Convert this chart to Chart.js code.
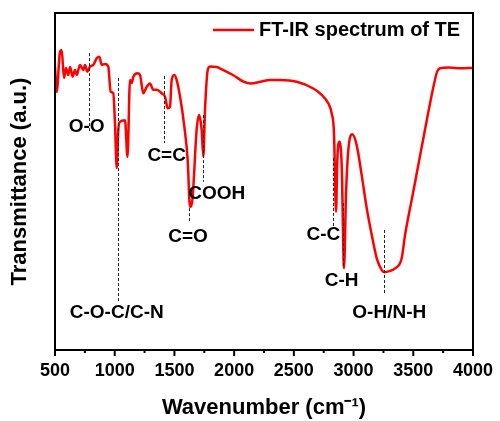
<!DOCTYPE html>
<html lang="en">
<head>
<meta charset="UTF-8">
<title>FT-IR spectrum of TE</title>
<script src="https://cdn.jsdelivr.net/npm/chart.js"></script>
<style>
  html, body { margin: 0; padding: 0; background: #ffffff; }
  #wrap { width: 500px; height: 421px; }
</style>
</head>
<body>
<div id="wrap"><canvas id="irChart" width="500" height="421"></canvas></div>
<script>
// wavenumber (cm-1) and transmittance (a.u., 0-100)
const wavenumbers = [
  500, 514, 542, 556, 575, 592, 611, 626, 648, 667, 682, 709, 737, 751, 770, 793,
  821, 849, 871, 891, 919, 946, 966, 988, 1002, 1017, 1030, 1044, 1086, 1107,
  1128, 1142, 1156, 1191, 1212, 1239, 1268, 1295, 1323, 1352, 1393, 1421, 1444,
  1463, 1477, 1499, 1519, 1547, 1583, 1611, 1630, 1650, 1686, 1706, 1728, 1742,
  1756, 1779, 1800, 1854, 1880, 1990, 2080, 2140, 2220, 2300, 2390, 2524, 2663,
  2733, 2788, 2817, 2836, 2853, 2864, 2881, 2901, 2920, 2937, 2956, 2989, 3026,
  3068, 3110, 3152, 3194, 3236, 3257, 3300, 3347, 3403, 3431, 3498, 3613, 3683,
  3700, 3724, 3800, 3900, 4000
];
const transmittance = [
  84.0, 76.6, 88.5, 89.0, 80.7, 83.7, 81.6, 84.0, 81.1, 83.1, 81.6, 84.6, 83.1, 84.6, 82.6, 84.1,
  84.6, 86.6, 87.0, 84.6, 84.9, 84.1, 76.6, 76.2, 67.4, 54.0, 65.3, 67.7, 68.2, 57.3,
  80.1, 79.2, 81.1, 82.1, 81.6, 76.2, 78.1, 79.1, 77.2, 77.2, 76.2, 75.2, 71.7,
  72.2, 80.1, 81.6, 80.1, 75.2, 66.3, 56.4, 42.5, 44.5, 65.3, 69.7, 65.3, 57.4,
  71.2, 83.1, 84.1, 84.0, 83.6, 81.6, 79.6, 79.1, 79.6, 80.1, 80.1, 79.6, 77.6,
  75.7, 73.2, 70.2, 64.4, 41.0, 56.4, 61.8, 54.4, 24.3, 46.6, 59.3, 64.0, 60.8,
  51.9, 42.1, 34.2, 27.2, 23.7, 23.1, 23.4, 24.2, 27.2, 34.1, 46.6, 68.2, 80.4,
  82.6, 83.6, 83.8, 83.6, 83.7
];

// band assignments: label, wavenumber of dashed line, line top/bottom (a.u.), label centre
const bandLabels = ['O-O', 'C-O-C/C-N', 'C=C', 'C=O', 'COOH', 'C-C', 'C-H', 'O-H/N-H'];
const bandWave   = [785, 1030, 1415, 1625, 1742, 2826, 2912, 3255];
const bandTop    = [88.1, 80.7, 81.3, 42.1, 69.7, 57.0, 43.6, 35.6];
const bandBottom = [64.4, 14.2, 61.4, 37.7, 49.9, 36.5, 24.3, 16.3];
const labelWave  = [765, 1017, 1435, 1614, 1854, 2747, 2900, 3299];
const labelT     = [66.2, 11.0, 57.6, 33.5, 46.3, 34.1, 20.5, 11.0];

const xTicks = [500, 1000, 1500, 2000, 2500, 3000, 3500, 4000];

const boldFont = '"Liberation Sans", Arial, sans-serif';

// frame, outward ticks, legend and band annotations
const decorPlugin = {
  id: 'decor',
  afterDatasetsDraw(chart) {
    const ctx = chart.ctx;
    const area = chart.chartArea;
    const xs = chart.scales.x;
    const ys = chart.scales.y;

    ctx.save();
    // dashed band markers
    ctx.strokeStyle = '#222';
    ctx.lineWidth = 1;
    ctx.setLineDash([3, 2]);
    bandLabels.forEach((lab, i) => {
      const px = Math.round(xs.getPixelForValue(bandWave[i])) + 0.5;
      ctx.beginPath();
      ctx.moveTo(px, ys.getPixelForValue(bandTop[i]));
      ctx.lineTo(px, ys.getPixelForValue(bandBottom[i]));
      ctx.stroke();
    });
    ctx.setLineDash([]);
    ctx.fillStyle = '#000';
    ctx.font = 'bold 19px ' + boldFont;
    ctx.textAlign = 'center';
    ctx.textBaseline = 'middle';
    bandLabels.forEach((lab, i) => {
      ctx.fillText(lab, xs.getPixelForValue(labelWave[i]), ys.getPixelForValue(labelT[i]));
    });

    // frame
    ctx.strokeStyle = '#000';
    ctx.lineWidth = 2;
    ctx.strokeRect(area.left, area.top, area.right - area.left, area.bottom - area.top);

    // ticks every 250, long at 500s
    ctx.lineWidth = 2;
    for (let v = xs.min; v <= xs.max; v += 250) {
      const px = xs.getPixelForValue(v);
      const len = v % 500 === 0 ? 6 : 3;
      ctx.beginPath();
      ctx.moveTo(px, area.bottom);
      ctx.lineTo(px, area.bottom + len);
      ctx.stroke();
    }

    // legend
    const ly = area.top + 17;
    ctx.strokeStyle = '#ff0000';
    ctx.lineWidth = 2.5;
    ctx.beginPath();
    ctx.moveTo(area.right - 260, ly);
    ctx.lineTo(area.right - 219, ly);
    ctx.stroke();
    ctx.fillStyle = '#000';
    ctx.font = 'bold 20px ' + boldFont;
    ctx.textAlign = 'left';
    ctx.fillText(chart.data.datasets[0].label, area.right - 214, ly);
    ctx.restore();
  }
};

const points = wavenumbers.map((w, i) => ({ x: w, y: transmittance[i] }));

new Chart(document.getElementById('irChart'), {
  type: 'line',
  data: {
    datasets: [{
      label: 'FT-IR spectrum of TE',
      data: points,
      borderColor: '#ff0000',
      borderWidth: 2.5,
      pointRadius: 0,
      cubicInterpolationMode: 'monotone',
      fill: false
    }]
  },
  options: {
    responsive: false,
    animation: false,
    layout: { padding: { top: 13, right: 27, left: 0, bottom: 0 } },
    plugins: {
      legend: { display: false },
      tooltip: { enabled: false }
    },
    scales: {
      x: {
        type: 'linear',
        min: 500,
        max: 4000,
        afterBuildTicks: (scale) => { scale.ticks = xTicks.map(v => ({ value: v })); },
        afterFit: (scale) => {
          scale.height = 71;
          scale.paddingLeft = 0;
          scale.paddingRight = 0;
        },
        grid: { display: false, drawTicks: true, tickLength: 0 },
        border: { display: false },
        ticks: {
          color: '#000',
          padding: 10,
          maxRotation: 0,
          callback: (v) => String(v),
          font: { family: boldFont, size: 18, weight: 'bold' }
        },
        title: {
          display: true,
          text: 'Wavenumber (cm\u207B\u00B9)',
          color: '#000',
          padding: { top: 0, bottom: 0 },
          font: { family: boldFont, size: 22, weight: 'bold' }
        }
      },
      y: {
        min: 0,
        max: 100,
        afterFit: (scale) => { scale.width = 55; },
        grid: { display: false },
        border: { display: false },
        ticks: { display: false },
        title: {
          display: true,
          text: 'Transmittance (a.u.)',
          color: '#000',
          padding: { top: 7, bottom: 0 },
          font: { family: boldFont, size: 22, weight: 'bold' }
        }
      }
    }
  },
  plugins: [decorPlugin]
});
</script>
</body>
</html>
